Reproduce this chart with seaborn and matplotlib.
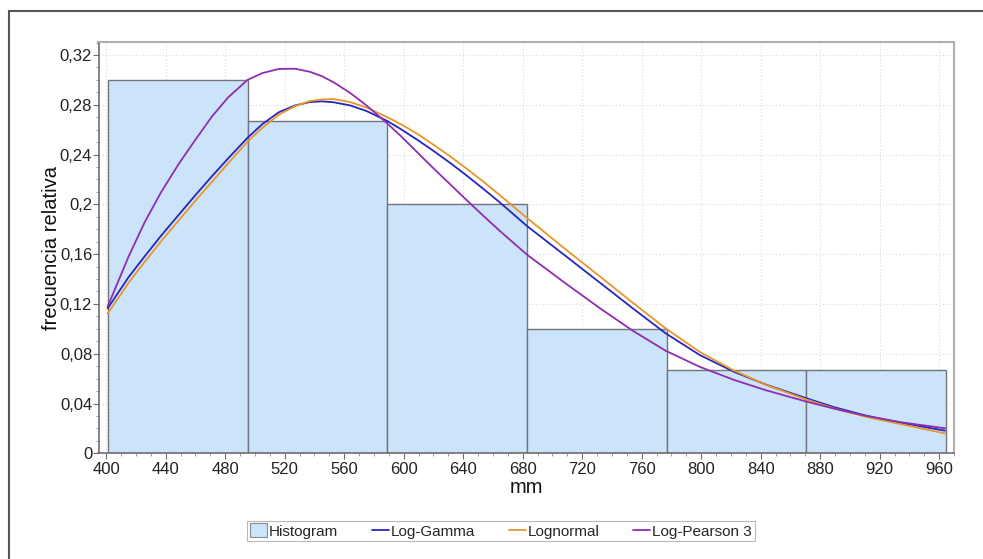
import numpy as np
import pandas as pd
import matplotlib
matplotlib.use("Agg")
import matplotlib.pyplot as plt
import seaborn as sns
from matplotlib.patches import Patch, Rectangle
from matplotlib.lines import Line2D
from matplotlib.ticker import MultipleLocator, FixedLocator, FixedFormatter

# ---------------- data ----------------
bin_edges = [401, 495, 589, 683, 777, 870.5, 964.5]
rel_freq = [0.3, 0.2667, 0.2, 0.1, 0.0667, 0.0667]

curve_x = [401, 408, 415, 426, 437, 449, 460, 471, 482, 495, 505, 516, 527,
           537, 545, 553, 564, 575, 589, 598, 609, 620, 631, 642, 654, 665,
           683, 710, 732, 754, 776, 799, 822, 844, 870, 889, 911, 934, 964]
log_gamma = [0.1165, 0.129, 0.1415, 0.1585, 0.175, 0.192, 0.2075, 0.2225, 0.237,
             0.2535, 0.2645, 0.2740, 0.2795, 0.2822, 0.2828, 0.2820, 0.2795,
             0.2750, 0.2670, 0.2605, 0.2520, 0.2430, 0.2335, 0.2235, 0.2120,
             0.2012, 0.1825, 0.1575, 0.1370, 0.1165, 0.0965, 0.0790, 0.0655,
             0.0550, 0.0445, 0.0372, 0.0302, 0.0246, 0.0182]
lognormal = [0.1125, 0.1245, 0.1370, 0.1540, 0.1705, 0.1875, 0.2030, 0.2180,
             0.2330, 0.2505, 0.2615, 0.2720, 0.2790, 0.2830, 0.2843, 0.2846,
             0.2822, 0.2778, 0.2700, 0.2645, 0.2568, 0.2480, 0.2388, 0.2290,
             0.2178, 0.2070, 0.1890, 0.1628, 0.1420, 0.1210, 0.1005, 0.0815,
             0.0665, 0.0548, 0.0435, 0.0362, 0.0292, 0.0235, 0.0160]
log_pearson3 = [0.118, 0.138, 0.158, 0.186, 0.210, 0.233, 0.252, 0.2705, 0.286,
                0.300, 0.3055, 0.3088, 0.3090, 0.3065, 0.3030, 0.2980, 0.2895,
                0.2795, 0.2650, 0.2550, 0.2420, 0.2290, 0.2164, 0.2038, 0.1903,
                0.1783, 0.1595, 0.1355, 0.1165, 0.0985, 0.0825, 0.0695, 0.0590,
                0.0505, 0.0418, 0.0360, 0.0300, 0.0250, 0.0201]

series_names = ["Log-Gamma", "Lognormal", "Log-Pearson 3"]
hist_label = "Histogram"
x_ticks = [400, 440, 480, 520, 560, 600, 640, 680, 720, 760, 800, 840, 880, 920, 960]
y_ticks = [0, 0.04, 0.08, 0.12, 0.16, 0.2, 0.24, 0.28, 0.32]
y_tick_labels = ["0", "0,04", "0,08", "0,12", "0,16", "0,2", "0,24", "0,28", "0,32"]
x_label = "mm"
y_label = "frecuencia relativa"

# ---------------- style ----------------
sns.set_style("white")
plt.rcParams["font.family"] = ["Liberation Sans", "DejaVu Sans"]
plt.rcParams["lines.solid_joinstyle"] = "round"

colors = {"Log-Gamma": "#2626BE", "Lognormal": "#E8962A", "Log-Pearson 3": "#8E2DB3"}
hist_face = "#CCE4F9"
hist_edge = "#737380"

W, H = 983, 559
fig = plt.figure(figsize=(W / 100, H / 100), dpi=100)
ax_left, ax_right, ax_top, ax_bottom = 98.5, 954, 41.7, 453.3
ax = fig.add_axes([ax_left / W, 1 - ax_bottom / H,
                   (ax_right - ax_left) / W, (ax_bottom - ax_top) / H])

# histogram
bin_centers = [(a + b) / 2 for a, b in zip(bin_edges[:-1], bin_edges[1:])]
sns.histplot(x=bin_centers, weights=rel_freq, bins=bin_edges, stat="count",
             color=hist_face, edgecolor=hist_edge, linewidth=1.0, alpha=1,
             ax=ax, zorder=2)

# curves
df = pd.DataFrame({
    "x": curve_x * 3,
    "y": log_gamma + lognormal + log_pearson3,
    "dist": [series_names[0]] * len(curve_x) + [series_names[1]] * len(curve_x)
            + [series_names[2]] * len(curve_x),
})
sns.lineplot(data=df, x="x", y="y", hue="dist", palette=colors,
             hue_order=series_names, linewidth=1.3, legend=False, ax=ax,
             zorder=3, errorbar=None)

ax.set_xlim(394.8, 970)
ax.set_ylim(0, 0.3307)

ax.xaxis.set_major_locator(FixedLocator(x_ticks))
ax.xaxis.set_minor_locator(MultipleLocator(10))
ax.yaxis.set_major_locator(FixedLocator(y_ticks))
ax.yaxis.set_major_formatter(FixedFormatter(y_tick_labels))
ax.yaxis.set_minor_locator(MultipleLocator(0.01))

ax.tick_params(axis="both", which="major", direction="out", length=4, width=0.8,
               color="#707070", labelsize=12, labelcolor="#222222", pad=2,
               bottom=True, left=True)
ax.tick_params(axis="y", which="major", pad=0.5)
ax.tick_params(axis="both", which="minor", direction="out", length=2, width=0.6,
               color="#909090", bottom=True, left=True)

ax.grid(True, which="major", linestyle=(0, (1, 2)), color="#DADADA", linewidth=0.8)
ax.set_axisbelow(True)

for side in ["left", "bottom"]:
    ax.spines[side].set_color("#6E6E6E")
    ax.spines[side].set_linewidth(1.2)
for side in ["top", "right"]:
    ax.spines[side].set_color("#B0B0B0")
    ax.spines[side].set_linewidth(1.5)

ax.set_xlabel(x_label, fontsize=14.5, color="#111111", labelpad=1)
ax.set_ylabel(y_label, fontsize=14.5, color="#111111", labelpad=-1)

# legend
handles = [Patch(facecolor=hist_face, edgecolor="#8A8A8A", linewidth=0.8)]
handles += [Line2D([0], [0], color=colors[n], linewidth=1.3) for n in series_names]
labels = [hist_label] + series_names
leg = fig.legend(handles, labels, loc="center",
                 bbox_to_anchor=(501 / W, 1 - 531 / H), ncol=4, frameon=True,
                 fancybox=False, edgecolor="#A8A8A8", fontsize=11,
                 handlelength=1.1, handleheight=1.0, handletextpad=0.15,
                 columnspacing=2.2, borderpad=0.15, borderaxespad=0)
leg.get_frame().set_linewidth(0.8)

# outer frame
fig.patches.append(Rectangle((8.5 / W, -0.05), 1.1, 1 - 10.5 / H + 0.05,
                             transform=fig.transFigure, fill=False,
                             edgecolor="#555555", linewidth=1.5))

fig.savefig("out.png", dpi=100)
